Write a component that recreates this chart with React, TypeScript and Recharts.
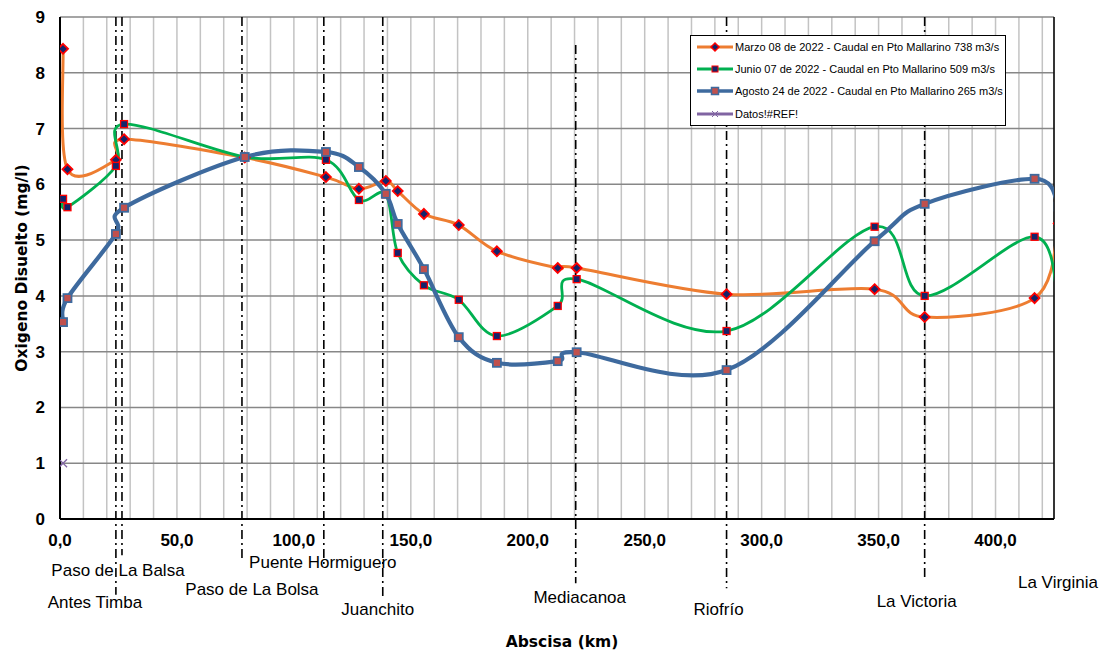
import React from "react";
import { LineChart, Line, XAxis, YAxis, CartesianGrid, ReferenceLine, Legend } from "recharts";

// abscisa (km) de cada punto de muestreo
const KM = [1.3, 3.2, 23.9, 27.4, 79.0, 113.7, 127.8, 139.3, 144.4, 155.6, 170.5, 186.8, 212.8, 220.9, 285.0, 348.3, 369.7, 416.7, 427.0];
const MARZO = [8.43, 6.27, 6.44, 6.81, 6.48, 6.13, 5.92, 6.06, 5.88, 5.47, 5.27, 4.8, 4.5, 4.5, 4.03, 4.12, 3.62, 3.96, 5.3];
const JUNIO = [5.74, 5.59, 6.33, 7.08, 6.49, 6.44, 5.72, 5.82, 4.77, 4.19, 3.93, 3.28, 3.82, 4.3, 3.37, 5.24, 4.0, 5.06, 3.8];
const AGOSTO = [3.53, 3.96, 5.11, 5.58, 6.49, 6.58, 6.31, 5.83, 5.29, 4.48, 3.26, 2.8, 2.83, 2.99, 2.67, 4.98, 5.65, 6.1, 5.6];
const REF_KM = [1.3];
const REF_VAL = [1.0];

const SERIES_NAMES = [
  "Marzo 08 de 2022 - Caudal en Pto Mallarino 738 m3/s",
  "Junio 07 de 2022 - Caudal en Pto Mallarino 509 m3/s",
  "Agosto 24 de 2022 - Caudal en Pto Mallarino 265 m3/s",
  "Datos!#REF!",
];

const STATIONS = ["Antes Timba", "Paso de La Balsa", "Paso de La Bolsa", "Puente Hormiguero", "Juanchito", "Mediacanoa", "Riofrío", "La Victoria", "La Virginia"];
const STATION_KM = [23.9, 26.5, 77.8, 112.8, 138.0, 220.5, 285.0, 369.7, 425];

const X_MAX = 425;
const X_TICKS = Array.from({ length: 43 }, (_, i) => i * 10);
const Y_TICKS = [0, 1, 2, 3, 4, 5, 6, 7, 8, 9];

// styling of the station lines / labels: [top, bottom] of the dash line (mg/l units), label offsets (px)
const STATION_SPAN = [[9, -1.36], [9, -0.65], [9, -0.7], [9, -0.86], [9, -1.42], [8.5, -1.15], [9, -1.24], [9, -1.09], [9, 0]];
const STATION_LABEL_OFF = [[-21, 8], [-4, 15], [10, 31], [-1, -4], [-5, 11], [4, 14], [-8, 21], [-8, 22], [4, 582 - 519]];

const zip = (xs: number[], ys: number[]) => xs.map((km, i) => ({ km, v: ys[i] }));
const marzo = zip(KM, MARZO);
const junio = zip(KM, JUNIO);
const agosto = zip(KM, AGOSTO);
const refData = zip(REF_KM, REF_VAL);

const ORANGE = "#ED7D31";
const GREEN = "#00B050";
const BLUE = "#3E6A9E";
const PURPLE = "#8064A2";
const NAVY = "#14246B";
const SERIES_COLORS = [ORANGE, GREEN, BLUE, PURPLE];

// Excel style smoothed line (bezier through every point)
const excelSmooth = (context: any) => {
  let pts: number[][] = [];
  return {
    areaStart() {},
    areaEnd() {},
    lineStart() {
      pts = [];
    },
    point(x: number, y: number) {
      pts.push([+x, +y]);
    },
    lineEnd() {
      const n = pts.length;
      if (!n) return;
      context.moveTo(pts[0][0], pts[0][1]);
      for (let i = 0; i < n - 1; i++) {
        const a = pts[Math.max(i - 1, 0)];
        const b = pts[i];
        const c = pts[i + 1];
        const d = pts[Math.min(i + 2, n - 1)];
        context.bezierCurveTo(
          b[0] + (c[0] - a[0]) / 6,
          b[1] + (c[1] - a[1]) / 6,
          c[0] - (d[0] - b[0]) / 6,
          c[1] - (d[1] - b[1]) / 6,
          c[0],
          c[1]
        );
      }
    },
  };
};

const diamond = (cx: number, cy: number, r: number) =>
  `${cx},${cy - r} ${cx + r},${cy} ${cx},${cy + r} ${cx - r},${cy}`;

const DiamondDot = (p: any) =>
  p.cx == null ? <g key={p.index} /> : (
    <polygon key={p.index} points={diamond(p.cx, p.cy, 5)} fill={NAVY} stroke="#FF0000" strokeWidth={1.8} />
  );
const GreenDot = (p: any) =>
  p.cx == null ? <g key={p.index} /> : (
    <rect key={p.index} x={p.cx - 3.5} y={p.cy - 3.5} width={7} height={7} fill={NAVY} stroke="#FF0000" strokeWidth={1.3} />
  );
const BlueDot = (p: any) =>
  p.cx == null ? <g key={p.index} /> : (
    <rect key={p.index} x={p.cx - 4} y={p.cy - 4} width={8} height={8} fill="#C0504D" stroke={BLUE} strokeWidth={1.8} />
  );
const CrossDot = (p: any) =>
  p.cx == null ? <g key={p.index} /> : (
    <g key={p.index} stroke={PURPLE} strokeWidth={1.3}>
      <line x1={p.cx - 4} y1={p.cy - 4} x2={p.cx + 4} y2={p.cy + 4} />
      <line x1={p.cx - 4} y1={p.cy + 4} x2={p.cx + 4} y2={p.cy - 4} />
    </g>
  );

const legendMarker = (i: number) => {
  if (i === 0) return <polygon points={diamond(19, 7, 4)} fill={NAVY} stroke="#FF0000" strokeWidth={1.5} />;
  if (i === 1) return <rect x={16} y={4} width={6} height={6} fill={NAVY} stroke="#FF0000" strokeWidth={1} />;
  if (i === 2) return <rect x={15.5} y={3.5} width={7} height={7} fill="#C0504D" stroke={BLUE} strokeWidth={1.5} />;
  return (
    <g stroke={PURPLE} strokeWidth={1}>
      <line x1={16} y1={4} x2={22} y2={10} />
      <line x1={16} y1={10} x2={22} y2={4} />
    </g>
  );
};

const renderLegend = () => (
  <div
    style={{
      border: "1.5px solid #000",
      background: "#fff",
      width: 316,
      boxSizing: "border-box",
      fontFamily: '"Liberation Sans", Arial, sans-serif',
      fontSize: 11,
      color: "#000",
    }}
  >
    {SERIES_NAMES.map((name, i) => (
      <div key={name} style={{ height: 22.2, display: "flex", alignItems: "center", paddingLeft: 5 }}>
        <svg width={38} height={14} style={{ marginRight: 1 }}>
          <line x1={1} y1={7} x2={37} y2={7} stroke={SERIES_COLORS[i]} strokeWidth={i === 2 ? 3.5 : 3} />
          {legendMarker(i)}
        </svg>
        <span>{name}</span>
      </div>
    ))}
  </div>
);

const stationLabel = (i: number) => (p: any) => {
  const vb = p.viewBox || {};
  const [dx, dy] = STATION_LABEL_OFF[i];
  return (
    <text
      x={vb.x + dx}
      y={vb.y + vb.height + dy}
      textAnchor="middle"
      dominantBaseline="central"
      fontSize={17}
      fill="#000"
      fontFamily='"Liberation Sans", Arial, sans-serif'
    >
      {STATIONS[i]}
    </text>
  );
};

const fmtKm = (v: number) => (v % 50 === 0 ? v.toFixed(1).replace(".", ",") : "");

export default function App() {
  return (
    <div style={{ position: "absolute", left: 0, top: 0, width: 1100, height: 653, background: "#fff" }}>
      <LineChart
        width={1100}
        height={653}
        margin={{ top: 17, right: 46, bottom: 0, left: 20 }}
        style={{ fontFamily: '"Liberation Sans", Arial, sans-serif' }}
      >
        <CartesianGrid horizontal={false} stroke="#c3c3c3" strokeWidth={1.5} />
        <CartesianGrid vertical={false} stroke="#878787" strokeWidth={1.5} />
        <XAxis
          type="number"
          dataKey="km"
          domain={[0, X_MAX]}
          allowDataOverflow
          ticks={X_TICKS}
          interval={0}
          tickFormatter={fmtKm}
          height={134}
          tickLine={false}
          tickSize={0}
          tickMargin={15}
          axisLine={{ stroke: "#000", strokeWidth: 2 }}
          tick={{ fill: "#000", fontSize: 17, fontWeight: 700 }}
          label={() => (
            <text
              x={562}
              y={642}
              textAnchor="middle"
              dominantBaseline="central"
              fontSize={15.5}
              fontWeight={700}
              fontFamily='"DejaVu Sans", Verdana, sans-serif'
              fill="#000"
            >
              Abscisa (km)
            </text>
          )}
        />
        <YAxis
          type="number"
          domain={[0, 9]}
          ticks={Y_TICKS}
          interval={0}
          width={40}
          tickLine={false}
          tickSize={0}
          tickMargin={15}
          axisLine={{ stroke: "#000", strokeWidth: 2 }}
          tick={{ fill: "#000", fontSize: 17, fontWeight: 700 }}
          label={(p: any) => {
            const vb = p.viewBox || {};
            const cy = vb.y + vb.height / 2;
            return (
              <text
                x={22}
                y={cy}
                transform={`rotate(-90 22 ${cy})`}
                textAnchor="middle"
                dominantBaseline="central"
                fontSize={15.5}
                fontWeight={700}
                fontFamily='"DejaVu Sans", Verdana, sans-serif'
                fill="#000"
              >
                Oxigeno Disuelto (mg/l)
              </text>
            );
          }}
        />
        <ReferenceLine x={X_MAX} stroke="#000" strokeWidth={1.5} />
        {STATIONS.map((s, i) => (
          <ReferenceLine
            key={s}
            segment={[
              { x: STATION_KM[i], y: STATION_SPAN[i][0] },
              { x: STATION_KM[i], y: STATION_SPAN[i][1] },
            ]}
            ifOverflow="visible"
            stroke={i === STATIONS.length - 1 ? "none" : "#000"}
            strokeWidth={1.6}
            strokeDasharray="9 4 2 4"
            label={stationLabel(i)}
          />
        ))}
        <Line
          data={marzo}
          dataKey="v"
          name={SERIES_NAMES[0]}
          type={excelSmooth as any}
          stroke={ORANGE}
          strokeWidth={3}
          dot={DiamondDot}
          activeDot={false}
          isAnimationActive={false}
        />
        <Line
          data={junio}
          dataKey="v"
          name={SERIES_NAMES[1]}
          type={excelSmooth as any}
          stroke={GREEN}
          strokeWidth={2.8}
          dot={GreenDot}
          activeDot={false}
          isAnimationActive={false}
        />
        <Line
          data={agosto}
          dataKey="v"
          name={SERIES_NAMES[2]}
          type={excelSmooth as any}
          stroke={BLUE}
          strokeWidth={4.2}
          dot={BlueDot}
          activeDot={false}
          isAnimationActive={false}
        />
        <Line
          data={refData}
          dataKey="v"
          name={SERIES_NAMES[3]}
          stroke={PURPLE}
          strokeWidth={3}
          dot={CrossDot}
          activeDot={false}
          isAnimationActive={false}
        />
        <Legend
          layout="vertical"
          align="center"
          verticalAlign="middle"
          content={renderLegend}
          wrapperStyle={{ left: 690, top: 35, width: 316, right: "auto", bottom: "auto" }}
        />
      </LineChart>
    </div>
  );
}
